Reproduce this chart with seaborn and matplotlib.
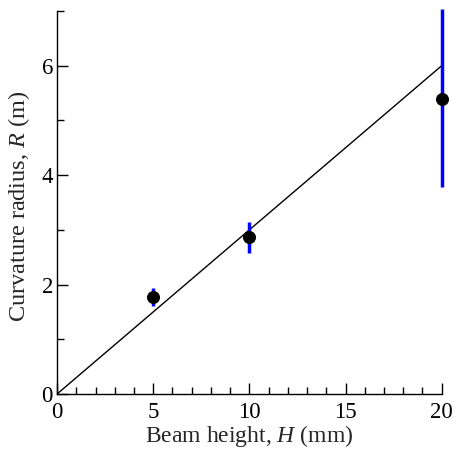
import matplotlib
matplotlib.use("Agg")
import matplotlib.pyplot as plt
from matplotlib.ticker import MultipleLocator
import seaborn as sns
import pandas as pd

beam_height = [5, 10, 20]
radius = [1.78, 2.87, 5.40]
err_low = [1.61, 2.58, 3.78]
err_high = [1.94, 3.15, 7.03]
fit_x = [0, 20]
fit_y = [0, 6]

sns.set_style("ticks")
plt.rcParams['font.family'] = ['Liberation Serif', 'DejaVu Serif']
plt.rcParams['mathtext.fontset'] = 'custom'
plt.rcParams['mathtext.it'] = 'Liberation Serif:italic'
plt.rcParams['mathtext.rm'] = 'Liberation Serif'

df = pd.DataFrame({"H": beam_height, "R": radius})
fit = pd.DataFrame({"H": fit_x, "R": fit_y})

fig = plt.figure(figsize=(4.53, 4.49), dpi=100)
ax = fig.add_axes([0.126, 0.1225, 0.849, 0.853])

sns.lineplot(data=fit, x="H", y="R", ax=ax, color="black", linewidth=1.0)
lo = [r - l for r, l in zip(radius, err_low)]
hi = [h - r for r, h in zip(radius, err_high)]
ax.errorbar(beam_height, radius, yerr=[lo, hi], fmt='none', ecolor='#0000ff',
            elinewidth=2.5, capsize=0, zorder=3, clip_on=False)
sns.scatterplot(data=df, x="H", y="R", ax=ax, color="black", s=75,
                edgecolor="black", zorder=4, clip_on=False)

ax.set_xlim(0, 20)
ax.set_ylim(0, 7)
ax.xaxis.set_major_locator(MultipleLocator(5))
ax.xaxis.set_minor_locator(MultipleLocator(1))
ax.yaxis.set_major_locator(MultipleLocator(2))
ax.yaxis.set_minor_locator(MultipleLocator(1))
ax.tick_params(which='both', direction='in', labelsize=16.5, colors='black', width=1)
ax.tick_params(which='major', length=8)
ax.tick_params(which='minor', length=5)
ax.tick_params(axis='x', which='major', pad=6)
ax.tick_params(axis='y', which='major', pad=3)
for s in ['top', 'right']:
    ax.spines[s].set_visible(False)
for s in ['left', 'bottom']:
    ax.spines[s].set_color('black')
    ax.spines[s].set_linewidth(1)

ax.set_xlabel("Beam height, $\\mathit{H}$ (mm)", fontsize=17, labelpad=0)
ax.set_ylabel("Curvature radius, $\\mathit{R}$ (m)", fontsize=17.5)
ax.yaxis.set_label_coords(-0.065, 0.49)

fig.savefig("out.png", dpi=100)
